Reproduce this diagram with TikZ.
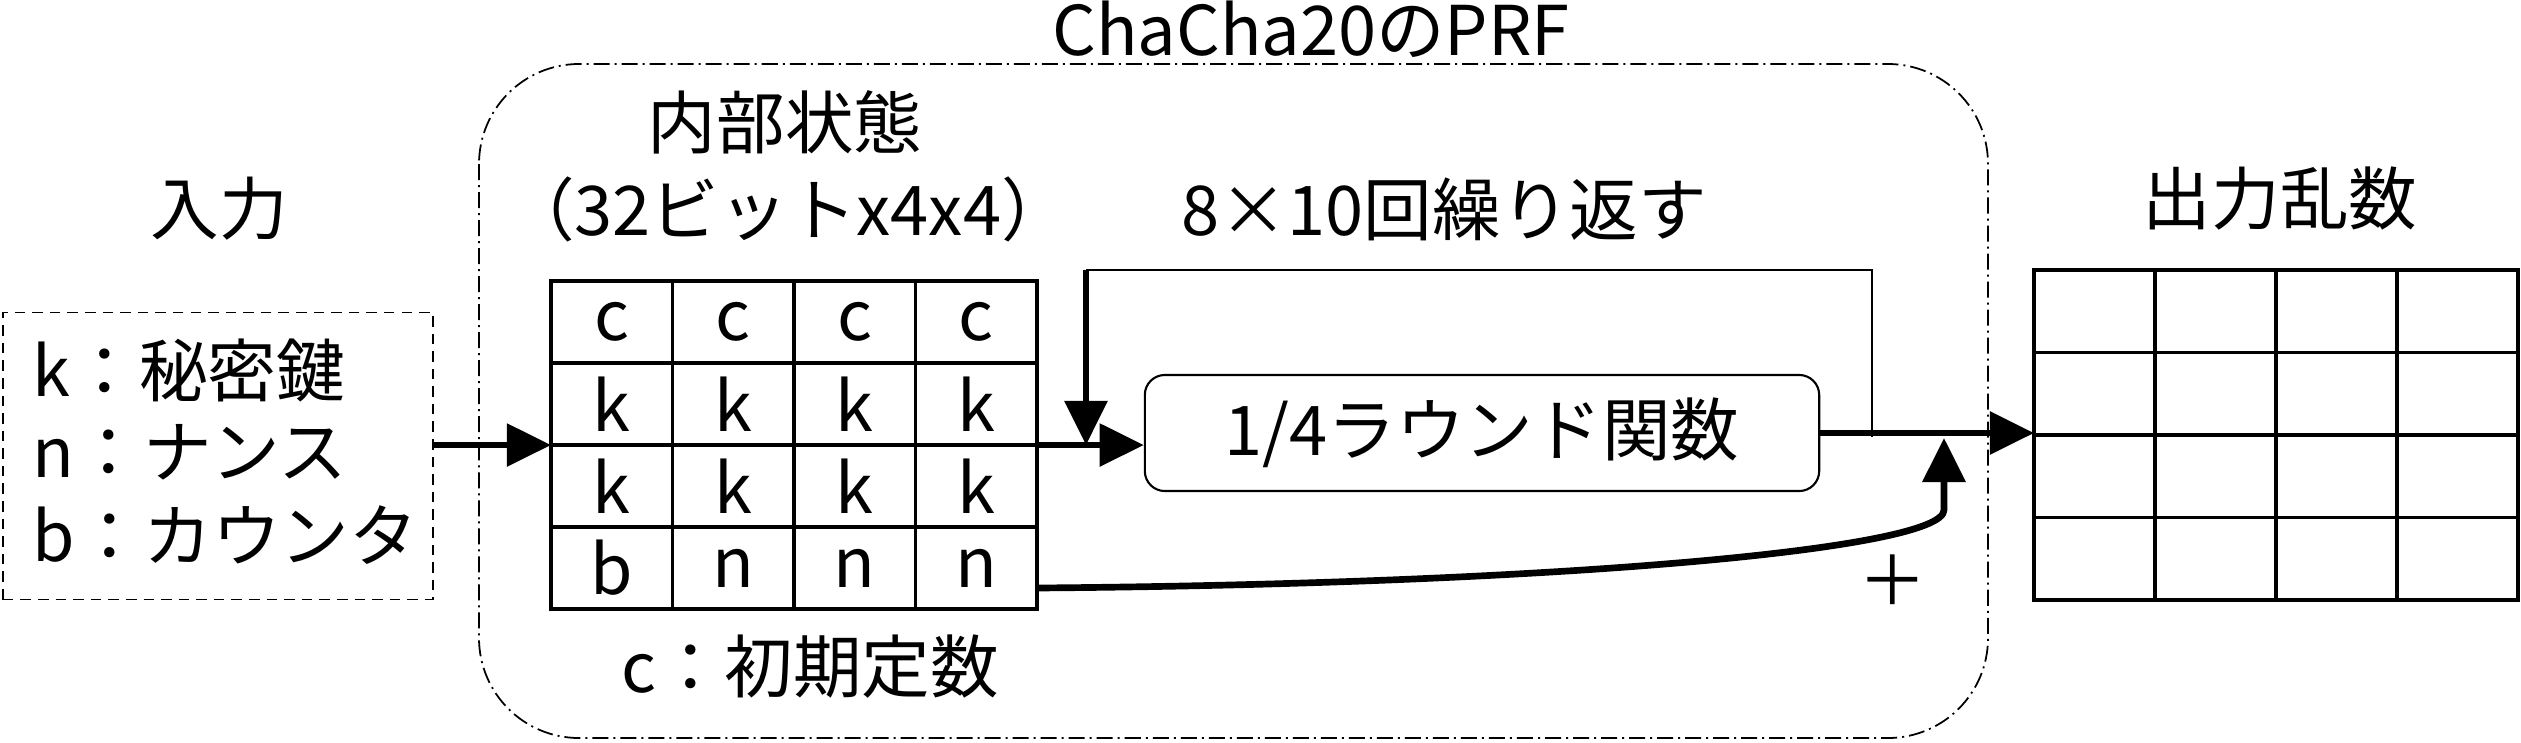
\documentclass[tikz,border=0pt]{standalone}
\usepackage{fontspec}
\setmainfont{Noto Sans CJK JP}
\usetikzlibrary{arrows.meta}

\begin{document}
\begin{tikzpicture}[
		x=0.01cm, y=-0.01cm,
		lbl/.style={font=\fontsize{19.5pt}{23pt}\selectfont, inner sep=0pt},
		cellbox/.style={draw, line width=1pt, minimum width=1.215cm, minimum height=0.82cm, inner sep=0pt, outer sep=0pt, lbl},
		outbox/.style={draw, line width=1pt, minimum width=1.21cm, minimum height=0.825cm, inner sep=0pt, outer sep=0pt},
		arr/.style={line width=1.6pt, -{Triangle[length=0.44cm, width=0.42cm]}},
		prfline/.style={line width=0.5pt, dash pattern=on 0.16cm off 0.05cm on 0.02cm off 0.05cm}
		]
		\useasboundingbox (0,0) rectangle (2521,742);
		
		% ---------------------------------------------------------
		% PRF frame
		% ---------------------------------------------------------
		\draw[prfline, rounded corners=1cm] (479,64) rectangle (1988,738);
		\node[lbl] (title) at (1311,29) {ChaCha20のPRF};
		
		% ---------------------------------------------------------
		% Input
		% ---------------------------------------------------------
		\node[lbl] (inlabel) at (219,209) {入力};
		\node[draw, densely dashed, line width=0.5pt, minimum width=4.3cm, minimum height=2.87cm, outer sep=0pt] (input) at (218,456) {};
		\node[lbl, anchor=west] (inkey) at (32,370) {k：秘密鍵};
		\node[lbl, anchor=west] (innonce) at (32,452) {n：ナンス};
		\node[lbl, anchor=west] (incount) at (32,535) {b：カウンタ};
		
		% ---------------------------------------------------------
		% Internal state 4x4
		% ---------------------------------------------------------
		\node[lbl] (statelabel) at (785,122) {内部状態};
		\node[lbl] (statesize) at (788,209) {（32ビットx4x4）};
		\foreach \r/\a/\b/\c/\d in {1/c/c/c/c, 2/k/k/k/k, 3/k/k/k/k, 4/b/n/n/n} {
			\foreach \col/\t in {1/\a, 2/\b, 3/\c, 4/\d} {
				\node[cellbox] (cell-\r-\col) at ({551+121.5*(\col-0.5)}, {281+82*(\r-0.5)}) {\t};
			}
		}
		\node[lbl] (constlabel) at (810,667) {c：初期定数};
		
		% ---------------------------------------------------------
		% Round function and loop
		% ---------------------------------------------------------
		\node[lbl] (looplabel) at (1444,209) {8×10回繰り返す};
		\node[draw, rounded corners=0.2cm, line width=0.6pt, minimum width=6.74cm, minimum height=1.16cm, lbl] (round) at (1482,433) {1/4ラウンド関数};
		
		% ---------------------------------------------------------
		% Output 4x4
		% ---------------------------------------------------------
		\node[lbl] (outlabel) at (2280,199) {出力乱数};
		\foreach \r in {1,...,4} {
			\foreach \col in {1,...,4} {
				\node[outbox] (out-\r-\col) at ({2034+121*(\col-0.5)}, {270+82.5*(\r-0.5)}) {};
			}
		}
		
		% ---------------------------------------------------------
		% Connectors
		% ---------------------------------------------------------
		\coordinate (looptr) at (1872,437);
		\coordinate (looptop) at (1872,270);
		\coordinate (looptl) at (1086,270);
		\coordinate (loopin) at (1086,445);
		\coordinate (addfrom) at (1037,588);
		\coordinate (addbend) at (1944,510);
		\coordinate (addto) at (1944,438);
		
		\draw[arr] (input.east |- cell-2-1.south west) -- (cell-2-1.south west);
		\draw[arr] (cell-2-4.south east) -- (round.west |- cell-2-4.south east);
		\draw[line width=0.6pt] (looptr) -- (looptop) -- (looptl);
		\draw[arr] (looptl) -- (loopin);
		\draw[arr] (round.east) -- (round.east -| out-2-1.south west);
		\draw[arr, line width=1.9pt] (addfrom) .. controls (1550,584) and (1944,550) .. (addbend) -- (addto);
		\node[lbl] (plus) at (1893,580) {＋};
		
	\end{tikzpicture}
\end{document}
